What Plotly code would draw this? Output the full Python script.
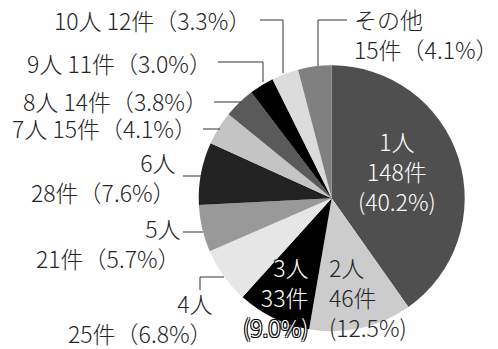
import plotly.graph_objects as go

categories = ["1人", "2人", "3人", "4人", "5人", "6人", "7人", "8人", "9人", "10人", "その他"]
counts = [148, 46, 33, 25, 21, 28, 15, 14, 11, 12, 15]
percents = ["40.2", "12.5", "9.0", "6.8", "5.7", "7.6", "4.1", "3.8", "3.0", "3.3", "4.1"]
colors = ["#4f4f4f", "#cccccc", "#000000", "#e6e6e6", "#999999", "#222222",
          "#c4c4c4", "#5a5a5a", "#000000", "#dcdcdc", "#808080"]

W, H = 498, 349
FONT = "Noto Sans CJK JP"
TXT = "#262626"
FS = 23


def px(x, y):
    return x / W, 1 - y / H


cx, cy, r = 331.7, 198.3, 133
fig = go.Figure(go.Pie(
    labels=categories, values=counts, sort=False, direction="clockwise", rotation=0,
    marker=dict(colors=colors, line=dict(width=0)),
    textinfo="none", hoverinfo="skip", showlegend=False,
    domain=dict(x=[(cx - r) / W, (cx + r) / W], y=[1 - (cy + r) / H, 1 - (cy - r) / H]),
))

annotations = []
shapes = []


def ann(x, y, text, color=TXT, anchor="center", shadow=None, size=FS):
    ax, ay = px(x, y)
    f = dict(family=FONT, size=size, color=color, weight=300)
    if shadow:
        f["shadow"] = shadow
    annotations.append(dict(x=ax, y=ay, xref="paper", yref="paper", text=text,
                            showarrow=False, xanchor=anchor, yanchor="middle",
                            align=anchor, borderpad=0, font=f))


def line(points):
    path = "M " + " L ".join(f"{px(x, y)[0]},{px(x, y)[1]}" for x, y in points)
    shapes.append(dict(type="path", path=path, xref="paper", yref="paper",
                       line=dict(color="#333333", width=1)))


def lbl(i):
    return categories[i], f"{counts[i]}件", percents[i]

# inside labels
c, n, p = lbl(0)
ann(397, 171, f"{c}<br>{n}<br>({p}%)", color="white")
c, n, p = lbl(1)
ann(328, 297, f"{c}<br>{n}<br>({p}%)", color=TXT, anchor="left")
outline = "-1px -1px 0 #000, 1px -1px 0 #000, -1px 1px 0 #000, 1px 1px 0 #000"
c, n, p = lbl(2)
ann(309, 297, f"{c}<br>{n}<br>({p}%)", color="white", anchor="right", shadow=outline)

# outside labels
c, n, p = lbl(10)
ann(353, 34, f"{c}<br>{n}（{p}%）", anchor="left")
line([(347, 20), (318, 20), (318, 66)])

c, n, p = lbl(9)
ann(252, 20, f"{c} {n}（{p}%）", anchor="right")
line([(260, 20), (283, 20), (283, 73)])

c, n, p = lbl(8)
ann(213, 63, f"{c} {n}（{p}%）", anchor="right")
line([(218, 62), (263, 62), (263, 82)])

c, n, p = lbl(7)
ann(209, 101, f"{c} {n}（{p}%）", anchor="right")
line([(214, 102), (241, 102)])

c, n, p = lbl(6)
ann(198, 128, f"{c} {n}（{p}%）", anchor="right")
line([(203, 129), (220, 129)])

c, n, p = lbl(5)
ann(177, 177, f"{c}<br>{n}（{p}%）", anchor="right")
line([(183, 176), (201, 176)])

c, n, p = lbl(4)
ann(182, 243, f"{c}<br>{n}（{p}%）", anchor="right")
line([(183, 232), (203, 232)])

c, n, p = lbl(3)
ann(214, 318, f"{c}<br>{n}（{p}%）", anchor="right")
line([(224, 277), (200, 277), (200, 290)])

fig.update_layout(
    width=W, height=H, margin=dict(l=0, r=0, t=0, b=0),
    paper_bgcolor="white", plot_bgcolor="white",
    annotations=annotations, shapes=shapes,
)
fig.write_html("out.html")
